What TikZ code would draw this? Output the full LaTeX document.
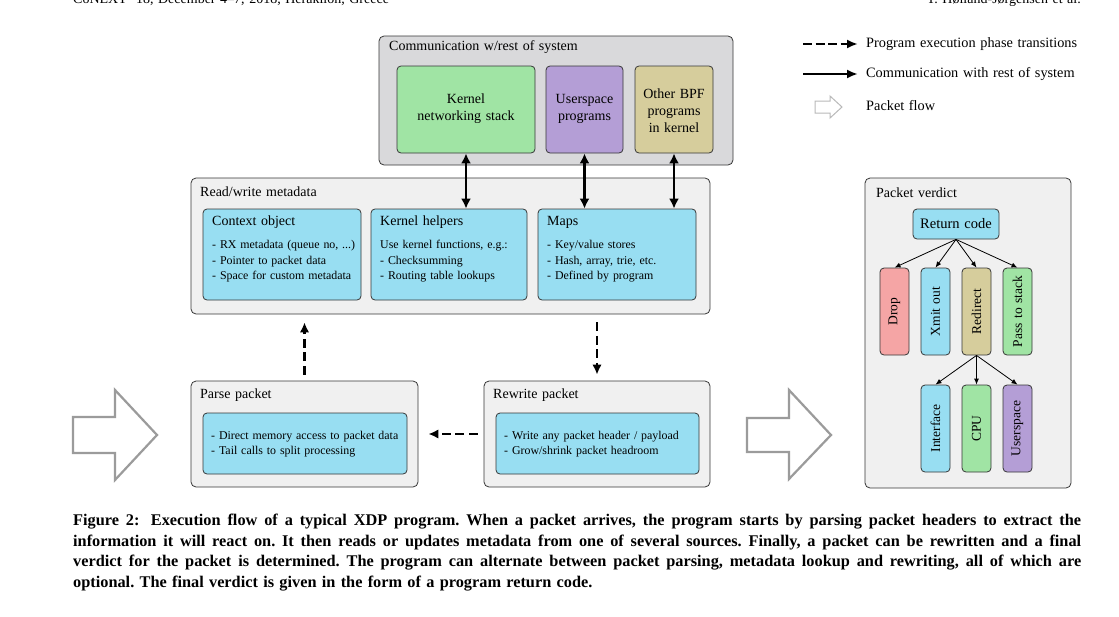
\documentclass[tikz,border=0pt]{standalone}
\usepackage{fontspec}
\setmainfont{Liberation Serif}[WordSpace={1.3}]
\newfontfamily\capfont{Liberation Serif}[WordSpace={1.3}]
\usetikzlibrary{arrows.meta,calc}
\definecolor{topgray}{RGB}{217,217,219}
\definecolor{metagray}{RGB}{240,240,240}
\definecolor{cblue}{RGB}{152,222,242}
\definecolor{cgreen}{RGB}{160,228,164}
\definecolor{cpurple}{RGB}{180,158,214}
\definecolor{ckhaki}{RGB}{214,205,156}
\definecolor{cpink}{RGB}{245,165,165}
\definecolor{bordc}{RGB}{55,55,55}
\definecolor{flowgray}{RGB}{155,155,155}
\definecolor{legflow}{RGB}{185,185,185}
\newcommand\ttlfont{\fontsize{14}{17}\selectfont}
\newcommand\itmfont{\fontsize{11.9}{15.5}\selectfont}
\newcommand\rotfont{\fontsize{13.5}{14}\selectfont}
\newcommand\legfont{\fontsize{14.3}{17}\selectfont}
\begin{document}
\begin{tikzpicture}[x=1pt,y=-1pt,
  outerbox/.style={draw=bordc, line width=0.8pt, rounded corners=5pt, inner sep=0pt},
  innerbox/.style={draw=bordc, line width=0.8pt, rounded corners=4pt, inner sep=0pt},
  ttl/.style={anchor=west, inner sep=0pt, font=\ttlfont},
  legtxt/.style={anchor=west, inner sep=0pt, font=\legfont},
  itm/.style={anchor=west, align=left, inner sep=0pt, font=\itmfont},
  ctr/.style={align=center, inner sep=0pt, font=\ttlfont},
  rot/.style={rotate=90, inner sep=0pt, font=\rotfont},
  commarrow/.style={line width=2.8pt, {Latex[length=10pt,width=10pt]}-{Latex[length=10pt,width=10pt]}},
  phasearrow/.style={line width=2.8pt, dash pattern=on 9pt off 4.5pt, -{Latex[length=10pt,width=9.5pt]}},
  verdarrow/.style={line width=0.8pt, -{Latex[length=6pt,width=5pt]}},
  flow/.style={draw=flowgray, line width=2.2pt, fill=white, line join=miter},
]
\useasboundingbox (0,0) rectangle (1119,616);
\fill[white] (0,0) rectangle (1119,616);

% running header (cut off at the top edge)
\node[anchor=base west, inner sep=0pt, font=\fontsize{14}{15}\selectfont] (hdl) at (73,3) {CoNEXT '18, December 4--7, 2018, Heraklion, Greece};
\node[anchor=base east, inner sep=0pt, font=\fontsize{14}{15}\selectfont] (hdr) at (1081,3) {T. Høiland-Jørgensen et al.};

% communication box
\node[outerbox, fill=topgray, minimum width=354pt, minimum height=129pt] (top) at (556,100.5) {};
\node[ttl] (toptitle) at (389,47) {Communication w/rest of system};
\node[innerbox, fill=cgreen, minimum width=138pt, minimum height=87pt] (kns) at (466,109.5) {};
\node[innerbox, fill=cpurple, minimum width=77pt, minimum height=87pt] (usp) at (584.5,109.5) {};
\node[innerbox, fill=ckhaki, minimum width=78pt, minimum height=87pt] (obpf) at (674,109.5) {};
\node[ctr] (knst) at (466,108.5) {Kernel\\networking stack};
\node[ctr] (uspt) at (584.5,108.5) {Userspace\\programs};
\node[ctr] (obpft) at (674,110.5) {Other BPF\\programs\\in kernel};

% metadata box
\node[outerbox, fill=metagray, minimum width=519pt, minimum height=136pt] (meta) at (450.5,246) {};
\node[ttl] (metatitle) at (200,192) {Read/write metadata};
\node[innerbox, fill=cblue, minimum width=158pt, minimum height=91pt] (ctx) at (282,254.5) {};
\node[innerbox, fill=cblue, minimum width=156pt, minimum height=91pt] (khelp) at (449,254.5) {};
\node[innerbox, fill=cblue, minimum width=158pt, minimum height=91pt] (maps) at (617,254.5) {};
\node[ttl] (ctxt) at (212,222) {Context object};
\node[ttl] (khelpt) at (380,222) {Kernel helpers};
\node[ttl] (mapst) at (547,222) {Maps};
\node[itm] (ctxi) at (212,261.5) {- RX metadata (queue no, ...)\\- Pointer to packet data\\- Space for custom metadata};
\node[itm] (khelpi) at (380,261.5) {Use kernel functions, e.g.:\\- Checksumming\\- Routing table lookups};
\node[itm] (mapsi) at (547,261.5) {- Key/value stores\\- Hash, array, trie, etc.\\- Defined by program};

% communication arrows
\draw[commarrow] (kns.south) -- (kns.south |- khelp.north);
\draw[commarrow] (usp.south) -- (usp.south |- maps.north);
\draw[commarrow] (obpf.south) -- (obpf.south |- maps.north);

% parse / rewrite
\node[outerbox, fill=metagray, minimum width=227pt, minimum height=106pt] (parse) at (304.5,434) {};
\node[ttl] (parset) at (200,395) {Parse packet};
\node[innerbox, fill=cblue, minimum width=204pt, minimum height=61pt] (parsei) at (305,443.5) {};
\node[itm] (parseit) at (211,444) {- Direct memory access to packet data\\- Tail calls to split processing};
\node[outerbox, fill=metagray, minimum width=226pt, minimum height=106pt] (rewrite) at (597,434) {};
\node[ttl] (rewritet) at (493,395) {Rewrite packet};
\node[innerbox, fill=cblue, minimum width=203pt, minimum height=61pt] (rewritei) at (597.5,443.5) {};
\node[itm] (rewriteit) at (504,444) {- Write any packet header / payload\\- Grow/shrink packet headroom};

% phase transitions
\draw[phasearrow, shorten <=6pt, shorten >=8pt] (parse.north) -- (parse.north |- meta.south);
\draw[phasearrow, shorten <=8pt, shorten >=6pt] (rewrite.north |- meta.south) -- (rewrite.north);
\draw[phasearrow, shorten <=6pt, shorten >=10pt] (rewrite.west) -- (parse.east);

% packet flow arrows
\draw[flow] (73,417) coordinate (fin) -- (115,417) -- (115,390) -- (157,435) -- (115,480) -- (115,453) -- (73,453) -- cycle;
\draw[flow] (747,418) coordinate (fout) -- (789,418) -- (789,390) -- (831,435) -- (789,479) -- (789,452) -- (747,452) -- cycle;

% packet verdict
\node[outerbox, fill=metagray, minimum width=206pt, minimum height=310pt] (verd) at (968,333) {};
\node[ttl] (verdt) at (876,193) {Packet verdict};
\node[innerbox, fill=cblue, minimum width=86pt, minimum height=30pt, font=\fontsize{14.5}{15}\selectfont] (rc) at (956,224) {Return code};
\node[innerbox, fill=cpink, minimum width=29pt, minimum height=87pt] (drop) at (894.5,311.5) {};
\node[innerbox, fill=cblue, minimum width=29pt, minimum height=87pt] (xmit) at (935.5,311.5) {};
\node[innerbox, fill=ckhaki, minimum width=29pt, minimum height=87pt] (redir) at (976.5,311.5) {};
\node[innerbox, fill=cgreen, minimum width=29pt, minimum height=87pt] (pass) at (1017.5,311.5) {};
\node[innerbox, fill=cblue, minimum width=29pt, minimum height=87pt] (iface) at (935.5,428.5) {};
\node[innerbox, fill=cgreen, minimum width=29pt, minimum height=87pt] (cpu) at (976.5,428.5) {};
\node[innerbox, fill=cpurple, minimum width=29pt, minimum height=87pt] (usp2) at (1017.5,428.5) {};
\node[rot] at (drop) {Drop};
\node[rot] at (xmit) {Xmit out};
\node[rot] at (redir) {Redirect};
\node[rot] at (pass) {Pass to stack};
\node[rot] at (iface) {Interface};
\node[rot] at (cpu) {CPU};
\node[rot] at (usp2) {Userspace};
\draw[verdarrow] (rc.south) -- (drop.north);
\draw[verdarrow] (rc.south) -- (xmit.north);
\draw[verdarrow] (rc.south) -- (redir.north);
\draw[verdarrow] (rc.south) -- (pass.north);
\draw[verdarrow] (redir.south) -- (iface.north);
\draw[verdarrow] (redir.south) -- (cpu.north);
\draw[verdarrow] (redir.south) -- (usp2.north);

% legend
\coordinate (l1a) at (803,44); \coordinate (l1b) at (858,44);
\coordinate (l2a) at (803,74); \coordinate (l2b) at (858,74);
\draw[line width=2.8pt, dash pattern=on 9pt off 3.5pt, -{Latex[length=11pt,width=9pt]}] (l1a) -- (l1b);
\draw[line width=2.8pt, -{Latex[length=11pt,width=9pt]}] (l2a) -- (l2b);
\draw[draw=legflow, line width=1pt, fill=white] (815,101) coordinate (l3) -- (830,101) -- (830,96) -- (842,107) -- (830,118) -- (830,113) -- (815,113) -- cycle;
\node[legtxt] (leg1) at (866,44) {Program execution phase transitions};
\node[legtxt] (leg2) at (866,74) {Communication with rest of system};
\node[legtxt] (leg3) at (866,106) {Packet flow};

% caption
\node[anchor=north west, inner sep=0pt, text width=1008pt, align=justify,
      font=\capfont\bfseries\fontsize{16.3}{20.5}\selectfont] (cap) at (73,514)
{\frenchspacing Figure 2:\hspace{0.7em}Execution flow of a typical XDP program. When a packet arrives, the program starts by parsing packet headers to extract the\linebreak
information it will react on. It then reads or updates metadata from one of several sources. Finally, a packet can be rewritten and a final\linebreak
verdict for the packet is determined. The program can alternate between packet parsing, metadata lookup and rewriting, all of which are\linebreak
optional. The final verdict is given in the form of a program return code.};
\end{tikzpicture}
\end{document}
